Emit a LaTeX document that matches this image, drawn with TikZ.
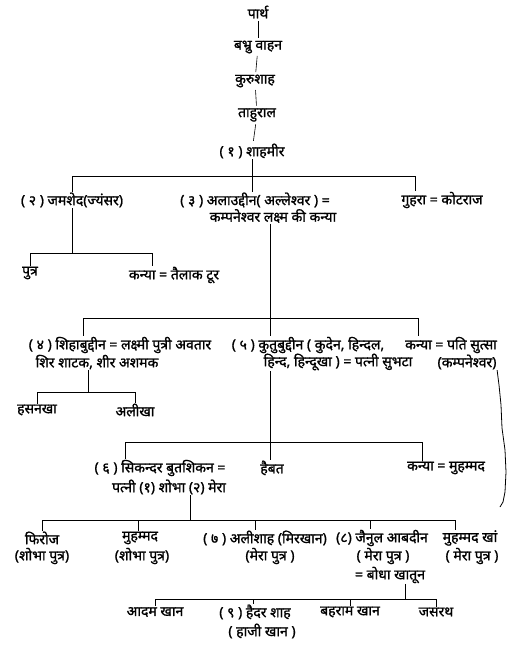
\documentclass[tikz,border=0pt]{standalone}
\usepackage{fontspec}
\setmainfont[Script=Devanagari]{Noto Sans}
\newfontfamily\devtext[Script=Devanagari,FakeBold=1.2]{Noto Sans}
\begin{document}
\begin{tikzpicture}[x=1pt,y=-1pt,
  person/.style={font=\devtext\fontsize{14}{15}\selectfont, inner sep=0.5pt, anchor=center},
  link/.style={line width=0.6pt, black},
  trunk/.style={link, shorten <=2pt, shorten >=2pt}]
\useasboundingbox (0,0) rectangle (511,659);

% ---- main line of descent
\node[person] (parth)   at (258,12)  {पार्थ};
\node[person] (babhru)  at (258,47)  {बभ्रु वाहन};
\node[person] (kuru)    at (255,81)  {कुरुशाह};
\node[person] (tahu)    at (257,115) {ताहुराल};
\node[person] (shahmir) at (252,151) {( १ ) शाहमीर};

\draw[trunk] (parth) -- (babhru);
\draw[trunk] (babhru) -- (kuru);
\draw[trunk] (kuru) -- (tahu);
\draw[trunk] (tahu) -- (shahmir);

% ---- children of Shahmir
\node[person] (jamshed) at (72,200)  {( २ ) जमशेद(ज्यंसर)};
\node[person] (alau)    at (255,200) {( ३ ) अलाउद्दीन( अल्लेश्वर ) =};
\node[person] (alauw)   at (273,216) {कम्पनेश्वर लक्ष्म की कन्या};
\node[person] (guhra)   at (442,200) {गुहरा = कोटराज};

\coordinate (busA) at (252,176);
\draw[link] (shahmir) -- (busA);
\draw[link] (72,176) -- (415,176);
\draw[link] (72,176) -- (jamshed.north -| 72,0);
\draw[link] (busA) -- (alau.north -| busA);
\draw[link] (415,176) -- (guhra.north -| 415,0);

% ---- children of Jamshed
\node[person] (putra)  at (30,273)  {पुत्र};
\node[person] (kanyaA) at (174,275) {कन्या = तैलाक टूर};
\draw[link] (jamshed.south) -- (72,253);
\draw[link] (30,253) -- (152,253);
\draw[link] (30,253) -- (putra.north -| 30,0);
\draw[link] (152,253) -- (kanyaA.north -| 152,0);

% ---- children of Alauddin
\node[person] (shihab)  at (120,345) {( ४ ) शिहाबुद्दीन = लक्ष्मी पुत्री अवतार};
\node[person] (shihabw) at (97,362)  {शिर शाटक, शीर अशमक};
\node[person] (kutub)   at (308,345) {( ५ ) कुतुबुद्दीन ( कुदेन, हिन्दल,};
\node[person] (kutubw)  at (338,362) {हिन्द, हिन्दूखा ) = पत्नी सुभटा};
\node[person] (kanyaB)  at (451,345) {कन्या = पति सुत्सा};
\node[person] (kanyaBw) at (467,362) {(कम्पनेश्वर)};

\coordinate (busB) at (270,318);
\draw[link] (alauw.south -| busB) -- (busB);
\draw[link] (83,318) -- (418,318);
\draw[link] (83,318) -- (shihab.north -| 83,0);
\draw[link] (busB) -- (kutub.north -| busB);
\draw[link] (418,318) -- (kanyaB.north -| 418,0);

% hand-drawn stroke running down from Kampaneshvara
\coordinate (strokeEnd) at (500,507);
\draw[line width=0.8pt] (kanyaBw.south east) -- (499,385) -- (501,405) -- (502,428)
  -- (505,450) -- (506,472) -- (505,492) -- (503,502) -- (strokeEnd);

% ---- children of Shihabuddin
\node[person] (hasan) at (37,410)  {हसनखा};
\node[person] (alikh) at (135,410) {अलीखा};
\draw[link] (shihabw.south -| 88,0) -- (88,392);
\draw[link] (37,392) -- (135,392);
\draw[link] (37,392) -- (hasan.north -| 37,0);
\draw[link] (135,392) -- (alikh.north -| 135,0);

% ---- children of Kutubuddin
\node[person] (sikandar)  at (160,468) {( ६ ) सिकन्दर बुतशिकन =};
\node[person] (sikandarw) at (169,487) {पत्नी (१) शोभा (२) मेरा};
\node[person] (haibat)    at (272,468) {हैबत};
\node[person] (kanyaC)    at (446,468) {कन्या = मुहम्मद};

\coordinate (busC) at (270,442);
\draw[link] (kutubw.south -| busC) -- (busC);
\draw[link] (125,442) -- (422,442);
\draw[link] (125,442) -- (sikandar.north -| 125,0);
\draw[link] (busC) -- (haibat.north -| busC);
\draw[link] (422,442) -- (kanyaC.north -| 422,0);

% ---- children of Sikandar
\node[person] (firoj)    at (42,538)  {फिरोज};
\node[person] (firojw)   at (42,556)  {(शोभा पुत्र)};
\node[person] (muhA)     at (140,538) {मुहम्मद};
\node[person] (muhAw)    at (142,556) {(शोभा पुत्र)};
\node[person] (alishah)  at (265,538) {( ७ ) अलीशाह (मिरखान)};
\node[person] (alishahw) at (270,556) {(मेरा पुत्र )};
\node[person] (zain)     at (382,538) {(८) जैनुल आबदीन};
\node[person] (zainw)    at (383,556) {( मेरा पुत्र )};
\node[person] (zainx)    at (390,575) {= बोधा खातून};
\node[person] (muhB)     at (470,538) {मुहम्मद खां};
\node[person] (muhBw)    at (472,556) {( मेरा पुत्र )};

\coordinate (busD) at (190,520);
\draw[link] (sikandarw.south -| busD) -- (busD);
\draw[link] (42,520) -- (455,520);
\draw[link] (42,520) -- (firoj.north -| 42,0);
\draw[link] (138,520) -- (muhA.north -| 138,0);
\draw[link] (255,520) -- (alishah.north -| 255,0);
\draw[link] (370,520) -- (zain.north -| 370,0);
\draw[link] (455,520) -- (muhB.north -| 455,0);

% ---- children of Zainul Abidin
\node[person] (adam)    at (155,612) {आदम खान};
\node[person] (haidar)  at (255,612) {( ९ ) हैदर शाह};
\node[person] (haidarw) at (262,631) {( हाजी खान )};
\node[person] (bahram)  at (350,612) {बहराम खान};
\node[person] (jasrath) at (436,612) {जसरथ};

\coordinate (busE) at (405,599);
\draw[link] (zainx.south -| busE) -- (busE);
\draw[link] (155,599) -- (436,599);
\draw[link] (155,599) -- (adam.north -| 155,0);
\draw[link] (253,599) -- (haidar.north -| 253,0);
\draw[link] (350,599) -- (bahram.north -| 350,0);
\draw[link] (436,599) -- (jasrath.north -| 436,0);
\end{tikzpicture}
\end{document}
